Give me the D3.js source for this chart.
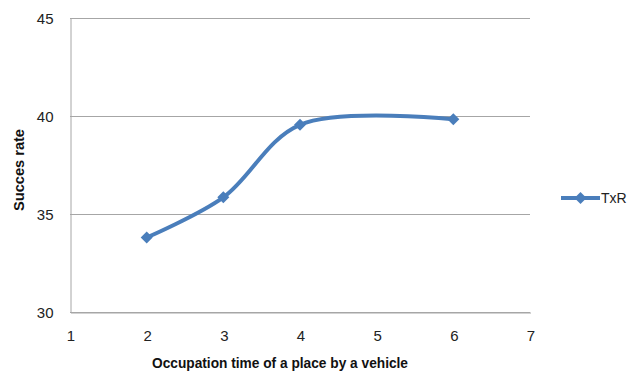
<!DOCTYPE html>
<html>
<head>
<meta charset="utf-8">
<script src="https://cdn.jsdelivr.net/npm/d3@7"></script>
<style>
  html, body { margin: 0; padding: 0; background: #fff; }
  svg { display: block; }
</style>
</head>
<body>
<svg id="chart" width="630" height="371"></svg>
<script>
// Occupation time vs. success rate, series TxR
const occupationTimes = [2, 3, 4, 6];
const txrValues = [33.8, 35.85, 39.55, 39.83];
const seriesName = "TxR";
const xTicks = [1, 2, 3, 4, 5, 6, 7];
const yTicks = [30, 35, 40, 45];
const xTitle = "Occupation time of a place by a vehicle";
const yTitle = "Succes rate";

const svg = d3.select("#chart");
const m = { left: 70, right: 100, top: 18, bottom: 59 };
const W = 630, H = 371;

const x = d3.scaleLinear().domain([1, 7]).range([m.left, W - m.right]);
const y = d3.scaleLinear().domain([30, 45]).range([H - m.bottom, m.top]);

const gridColor = "#a6a6a6";
const lineColor = "#4a7ebb";
const font = "'Liberation Sans', Arial, sans-serif";

// horizontal gridlines
svg.append("g")
  .selectAll("line")
  .data(yTicks)
  .join("line")
  .attr("x1", x(1)).attr("x2", x(7))
  .attr("y1", d => y(d) + 0.5).attr("y2", d => y(d) + 0.5)
  .attr("stroke", gridColor).attr("stroke-width", 1);

// y axis
const yAxis = svg.append("g")
  .attr("transform", `translate(${x(1) + 0.5},0.5)`)
  .call(d3.axisLeft(y).tickValues(yTicks).tickFormat(d3.format("d")).tickSize(0).tickPadding(17));
yAxis.select(".domain").attr("stroke", gridColor);
yAxis.selectAll("text").attr("font-family", font).attr("font-size", 15).attr("fill", "#222");

// x axis
const xAxis = svg.append("g")
  .attr("transform", `translate(0.5,${y(30) + 0.5})`)
  .call(d3.axisBottom(x).tickValues(xTicks).tickFormat(d3.format("d")).tickSize(0).tickPadding(18));
xAxis.select(".domain").attr("stroke", gridColor);
xAxis.selectAll("text").attr("font-family", font).attr("font-size", 15).attr("fill", "#222");

// axis titles
svg.append("text")
  .attr("x", 280).attr("y", 368)
  .attr("text-anchor", "middle")
  .attr("font-family", font).attr("font-weight", "bold").attr("font-size", 14)
  .attr("textLength", 256).attr("lengthAdjust", "spacingAndGlyphs")
  .attr("fill", "#111")
  .text(xTitle);

svg.append("text")
  .attr("transform", "translate(24,170) rotate(-90)")
  .attr("text-anchor", "middle")
  .attr("font-family", font).attr("font-weight", "bold").attr("font-size", 14)
  .attr("textLength", 82).attr("lengthAdjust", "spacingAndGlyphs")
  .attr("fill", "#111")
  .text(yTitle);

// series line (smoothed)
const pts = occupationTimes.map((t, i) => [t, txrValues[i]]);
const line = d3.line()
  .x(d => x(d[0])).y(d => y(d[1]))
  .curve(d3.curveCatmullRom.alpha(0.5));

svg.append("path")
  .datum(pts)
  .attr("d", line)
  .attr("fill", "none")
  .attr("stroke", lineColor)
  .attr("stroke-width", 4)
  .attr("stroke-linecap", "round");

// diamond markers
const marker = d3.symbol().type(d3.symbolSquare).size(72);
svg.append("g")
  .selectAll("path")
  .data(pts)
  .join("path")
  .attr("d", marker)
  .attr("transform", d => `translate(${x(d[0])},${y(d[1])}) rotate(45)`)
  .attr("fill", lineColor);

// legend
const lg = svg.append("g").attr("transform", "translate(561,198)");
lg.append("line").attr("x1", 0).attr("x2", 39).attr("y1", 0).attr("y2", 0)
  .attr("stroke", lineColor).attr("stroke-width", 4);
lg.append("path")
  .attr("d", marker)
  .attr("transform", "translate(19.5,0) rotate(45)")
  .attr("fill", lineColor);
lg.append("text")
  .attr("x", 40).attr("y", 5)
  .attr("font-family", font).attr("font-size", 14).attr("fill", "#222")
  .text(seriesName);
</script>
</body>
</html>
